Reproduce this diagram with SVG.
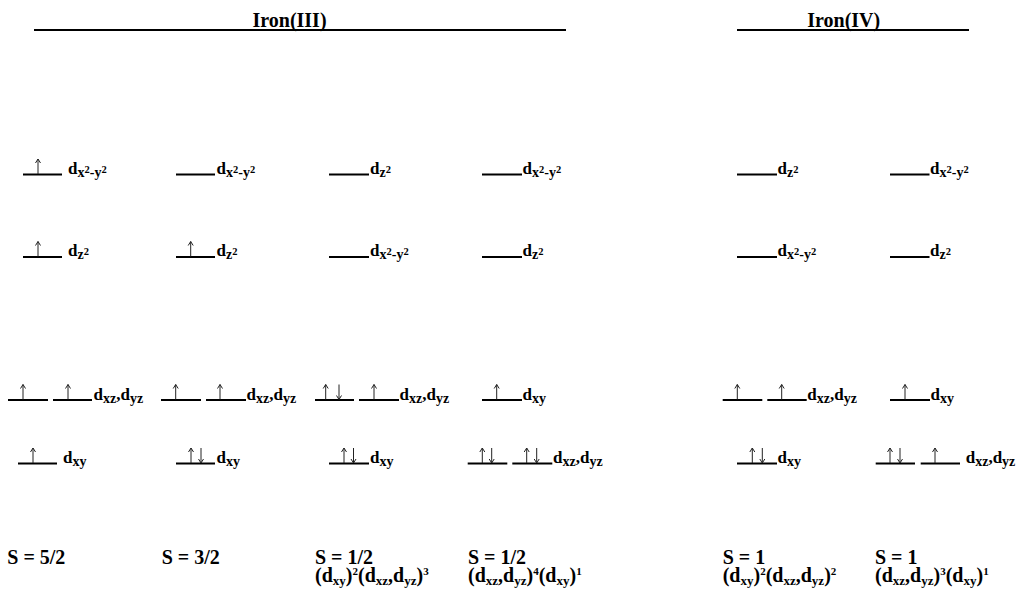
<svg xmlns="http://www.w3.org/2000/svg" xmlns:xlink="http://www.w3.org/1999/xlink" width="1018" height="591" viewBox="0 0 1018 591">
<style>
.bg{fill:#fff}
.hdr{stroke:#000;stroke-width:2}
.lvl{stroke:#000;stroke-width:2}
.arr{stroke:#222;stroke-width:1;fill:none}
.t{font-family:"Liberation Serif","Times New Roman",serif;font-weight:bold;fill:#000}
.ttl{font-size:20px}
.lab{font-size:17px}
.sub{font-size:14px}
.s2{font-size:10.5px}
.big{font-size:20px}
.bs{font-size:13px}
.bsup{font-size:11px}
</style>
<defs>
<path id="up" class="arr" d="M0,0 V-15 M-2.5,-11 L0,-15 L2.5,-11"/>
<path id="dn" class="arr" d="M0,0 V-15 M-2.5,-4 L0,0 L2.5,-4"/>
</defs>
<rect class="bg" x="0" y="0" width="1018" height="591"/>

<g id="headers">
<line class="hdr" x1="34" y1="30" x2="566" y2="30"/>
<text class="t ttl" x="289.5" y="27" text-anchor="middle">Iron(III)</text>
<line class="hdr" x1="737" y1="30" x2="969" y2="30"/>
<text class="t ttl" x="843.7" y="27" text-anchor="middle">Iron(IV)</text>
</g>

<g id="col1-S52">
<line class="lvl" x1="23" y1="174.5" x2="62" y2="174.5"/>
<use xlink:href="#up" x="38" y="174"/>
<text class="t lab" x="68" y="173.5">d<tspan class="sub" dy="3">x</tspan><tspan class="s2" dy="-4">2</tspan><tspan class="sub" dy="4">-y</tspan><tspan class="s2" dy="-4">2</tspan></text>
<line class="lvl" x1="23" y1="257" x2="62" y2="257"/>
<use xlink:href="#up" x="38" y="256.5"/>
<text class="t lab" x="68" y="256">d<tspan class="sub" dy="3">z</tspan><tspan class="s2" dy="-4">2</tspan></text>
<line class="lvl" x1="8" y1="400" x2="48" y2="400"/>
<line class="lvl" x1="53" y1="400" x2="92" y2="400"/>
<use xlink:href="#up" x="23" y="399.5"/>
<use xlink:href="#up" x="68" y="399.5"/>
<text class="t lab" x="93.5" y="399.5">d<tspan class="sub" dy="3">xz</tspan><tspan dy="-3">,d</tspan><tspan class="sub" dy="3">yz</tspan></text>
<line class="lvl" x1="18" y1="463.5" x2="57" y2="463.5"/>
<use xlink:href="#up" x="33" y="463"/>
<text class="t lab" x="63" y="462.5">d<tspan class="sub" dy="3">xy</tspan></text>
<text class="t big" x="7.3" y="563.5">S = 5/2</text>
</g>

<g id="col2-S32">
<line class="lvl" x1="176" y1="174.5" x2="215" y2="174.5"/>
<text class="t lab" x="216.5" y="173.5">d<tspan class="sub" dy="3">x</tspan><tspan class="s2" dy="-4">2</tspan><tspan class="sub" dy="4">-y</tspan><tspan class="s2" dy="-4">2</tspan></text>
<line class="lvl" x1="176" y1="257" x2="215" y2="257"/>
<use xlink:href="#up" x="190.7" y="256.5"/>
<text class="t lab" x="216.5" y="256">d<tspan class="sub" dy="3">z</tspan><tspan class="s2" dy="-4">2</tspan></text>
<line class="lvl" x1="161" y1="400" x2="201" y2="400"/>
<line class="lvl" x1="206" y1="400" x2="246" y2="400"/>
<use xlink:href="#up" x="175.7" y="399.5"/>
<use xlink:href="#up" x="220" y="399.5"/>
<text class="t lab" x="246.5" y="399.5">d<tspan class="sub" dy="3">xz</tspan><tspan dy="-3">,d</tspan><tspan class="sub" dy="3">yz</tspan></text>
<line class="lvl" x1="176" y1="463.5" x2="215" y2="463.5"/>
<use xlink:href="#up" x="191" y="463"/>
<use xlink:href="#dn" x="201" y="463"/>
<text class="t lab" x="216.5" y="462.5">d<tspan class="sub" dy="3">xy</tspan></text>
<text class="t big" x="161.7" y="563.5">S = 3/2</text>
</g>

<g id="col3-S12a">
<line class="lvl" x1="329" y1="174.5" x2="369" y2="174.5"/>
<text class="t lab" x="370" y="173.5">d<tspan class="sub" dy="3">z</tspan><tspan class="s2" dy="-4">2</tspan></text>
<line class="lvl" x1="329" y1="257" x2="369" y2="257"/>
<text class="t lab" x="370" y="256">d<tspan class="sub" dy="3">x</tspan><tspan class="s2" dy="-4">2</tspan><tspan class="sub" dy="4">-y</tspan><tspan class="s2" dy="-4">2</tspan></text>
<line class="lvl" x1="315" y1="400" x2="354" y2="400"/>
<line class="lvl" x1="359" y1="400" x2="399" y2="400"/>
<use xlink:href="#up" x="325.7" y="399.5"/>
<use xlink:href="#dn" x="339" y="399.5"/>
<use xlink:href="#up" x="374" y="399.5"/>
<text class="t lab" x="399.5" y="399.5">d<tspan class="sub" dy="3">xz</tspan><tspan dy="-3">,d</tspan><tspan class="sub" dy="3">yz</tspan></text>
<line class="lvl" x1="329" y1="463.5" x2="369" y2="463.5"/>
<use xlink:href="#up" x="344" y="463"/>
<use xlink:href="#dn" x="353.5" y="463"/>
<text class="t lab" x="370" y="462.5">d<tspan class="sub" dy="3">xy</tspan></text>
<text class="t big" x="315" y="563.5">S = 1/2</text>
<text class="t big" x="315" y="582">(d<tspan class="bs" dy="2.5">xy</tspan><tspan dy="-2.5">)</tspan><tspan class="bsup" dy="-7">2</tspan><tspan dy="7">(d</tspan><tspan class="bs" dy="2.5">xz</tspan><tspan dy="-2.5">,d</tspan><tspan class="bs" dy="2.5">yz</tspan><tspan dy="-2.5">)</tspan><tspan class="bsup" dy="-7">3</tspan></text>
</g>

<g id="col4-S12b">
<line class="lvl" x1="482" y1="174.5" x2="522" y2="174.5"/>
<text class="t lab" x="522.5" y="173.5">d<tspan class="sub" dy="3">x</tspan><tspan class="s2" dy="-4">2</tspan><tspan class="sub" dy="4">-y</tspan><tspan class="s2" dy="-4">2</tspan></text>
<line class="lvl" x1="482" y1="257" x2="522" y2="257"/>
<text class="t lab" x="522.5" y="256">d<tspan class="sub" dy="3">z</tspan><tspan class="s2" dy="-4">2</tspan></text>
<line class="lvl" x1="482" y1="400" x2="522" y2="400"/>
<use xlink:href="#up" x="496.7" y="399.5"/>
<text class="t lab" x="522.5" y="399.5">d<tspan class="sub" dy="3">xy</tspan></text>
<line class="lvl" x1="467.7" y1="463.5" x2="507.3" y2="463.5"/>
<line class="lvl" x1="512.3" y1="463.5" x2="552.3" y2="463.5"/>
<use xlink:href="#up" x="482.3" y="463"/>
<use xlink:href="#dn" x="491.7" y="463"/>
<use xlink:href="#up" x="526.7" y="463"/>
<use xlink:href="#dn" x="536.7" y="463"/>
<text class="t lab" x="553" y="462.5">d<tspan class="sub" dy="3">xz</tspan><tspan dy="-3">,d</tspan><tspan class="sub" dy="3">yz</tspan></text>
<text class="t big" x="468" y="563.5">S = 1/2</text>
<text class="t big" x="468" y="582">(d<tspan class="bs" dy="2.5">xz</tspan><tspan dy="-2.5">,d</tspan><tspan class="bs" dy="2.5">yz</tspan><tspan dy="-2.5">)</tspan><tspan class="bsup" dy="-7">4</tspan><tspan dy="7">(d</tspan><tspan class="bs" dy="2.5">xy</tspan><tspan dy="-2.5">)</tspan><tspan class="bsup" dy="-7">1</tspan></text>
</g>

<g id="col5-S1a">
<line class="lvl" x1="737" y1="174.5" x2="777" y2="174.5"/>
<text class="t lab" x="777.5" y="173.5">d<tspan class="sub" dy="3">z</tspan><tspan class="s2" dy="-4">2</tspan></text>
<line class="lvl" x1="737" y1="257" x2="777" y2="257"/>
<text class="t lab" x="777.5" y="256">d<tspan class="sub" dy="3">x</tspan><tspan class="s2" dy="-4">2</tspan><tspan class="sub" dy="4">-y</tspan><tspan class="s2" dy="-4">2</tspan></text>
<line class="lvl" x1="722.7" y1="400" x2="762.3" y2="400"/>
<line class="lvl" x1="767.3" y1="400" x2="806.7" y2="400"/>
<use xlink:href="#up" x="737.3" y="399.5"/>
<use xlink:href="#up" x="781.7" y="399.5"/>
<text class="t lab" x="807.3" y="399.5">d<tspan class="sub" dy="3">xz</tspan><tspan dy="-3">,d</tspan><tspan class="sub" dy="3">yz</tspan></text>
<line class="lvl" x1="737" y1="463.5" x2="777" y2="463.5"/>
<use xlink:href="#up" x="752.3" y="463"/>
<use xlink:href="#dn" x="762.3" y="463"/>
<text class="t lab" x="777.5" y="462.5">d<tspan class="sub" dy="3">xy</tspan></text>
<text class="t big" x="722.7" y="563.5">S = 1</text>
<text class="t big" x="722.7" y="582">(d<tspan class="bs" dy="2.5">xy</tspan><tspan dy="-2.5">)</tspan><tspan class="bsup" dy="-7">2</tspan><tspan dy="7">(d</tspan><tspan class="bs" dy="2.5">xz</tspan><tspan dy="-2.5">,d</tspan><tspan class="bs" dy="2.5">yz</tspan><tspan dy="-2.5">)</tspan><tspan class="bsup" dy="-7">2</tspan></text>
</g>

<g id="col6-S1b">
<line class="lvl" x1="890" y1="174.5" x2="929.5" y2="174.5"/>
<text class="t lab" x="930" y="173.5">d<tspan class="sub" dy="3">x</tspan><tspan class="s2" dy="-4">2</tspan><tspan class="sub" dy="4">-y</tspan><tspan class="s2" dy="-4">2</tspan></text>
<line class="lvl" x1="890" y1="257" x2="929.5" y2="257"/>
<text class="t lab" x="930" y="256">d<tspan class="sub" dy="3">z</tspan><tspan class="s2" dy="-4">2</tspan></text>
<line class="lvl" x1="890" y1="400" x2="930" y2="400"/>
<use xlink:href="#up" x="905" y="399.5"/>
<text class="t lab" x="930.5" y="399.5">d<tspan class="sub" dy="3">xy</tspan></text>
<line class="lvl" x1="875.7" y1="463.5" x2="915" y2="463.5"/>
<line class="lvl" x1="920.7" y1="463.5" x2="960" y2="463.5"/>
<use xlink:href="#up" x="890" y="463"/>
<use xlink:href="#dn" x="900" y="463"/>
<use xlink:href="#up" x="935" y="463"/>
<text class="t lab" x="965.7" y="462.5">d<tspan class="sub" dy="3">xz</tspan><tspan dy="-3">,d</tspan><tspan class="sub" dy="3">yz</tspan></text>
<text class="t big" x="875" y="563.5">S = 1</text>
<text class="t big" x="875" y="582">(d<tspan class="bs" dy="2.5">xz</tspan><tspan dy="-2.5">,d</tspan><tspan class="bs" dy="2.5">yz</tspan><tspan dy="-2.5">)</tspan><tspan class="bsup" dy="-7">3</tspan><tspan dy="7">(d</tspan><tspan class="bs" dy="2.5">xy</tspan><tspan dy="-2.5">)</tspan><tspan class="bsup" dy="-7">1</tspan></text>
</g>
</svg>
